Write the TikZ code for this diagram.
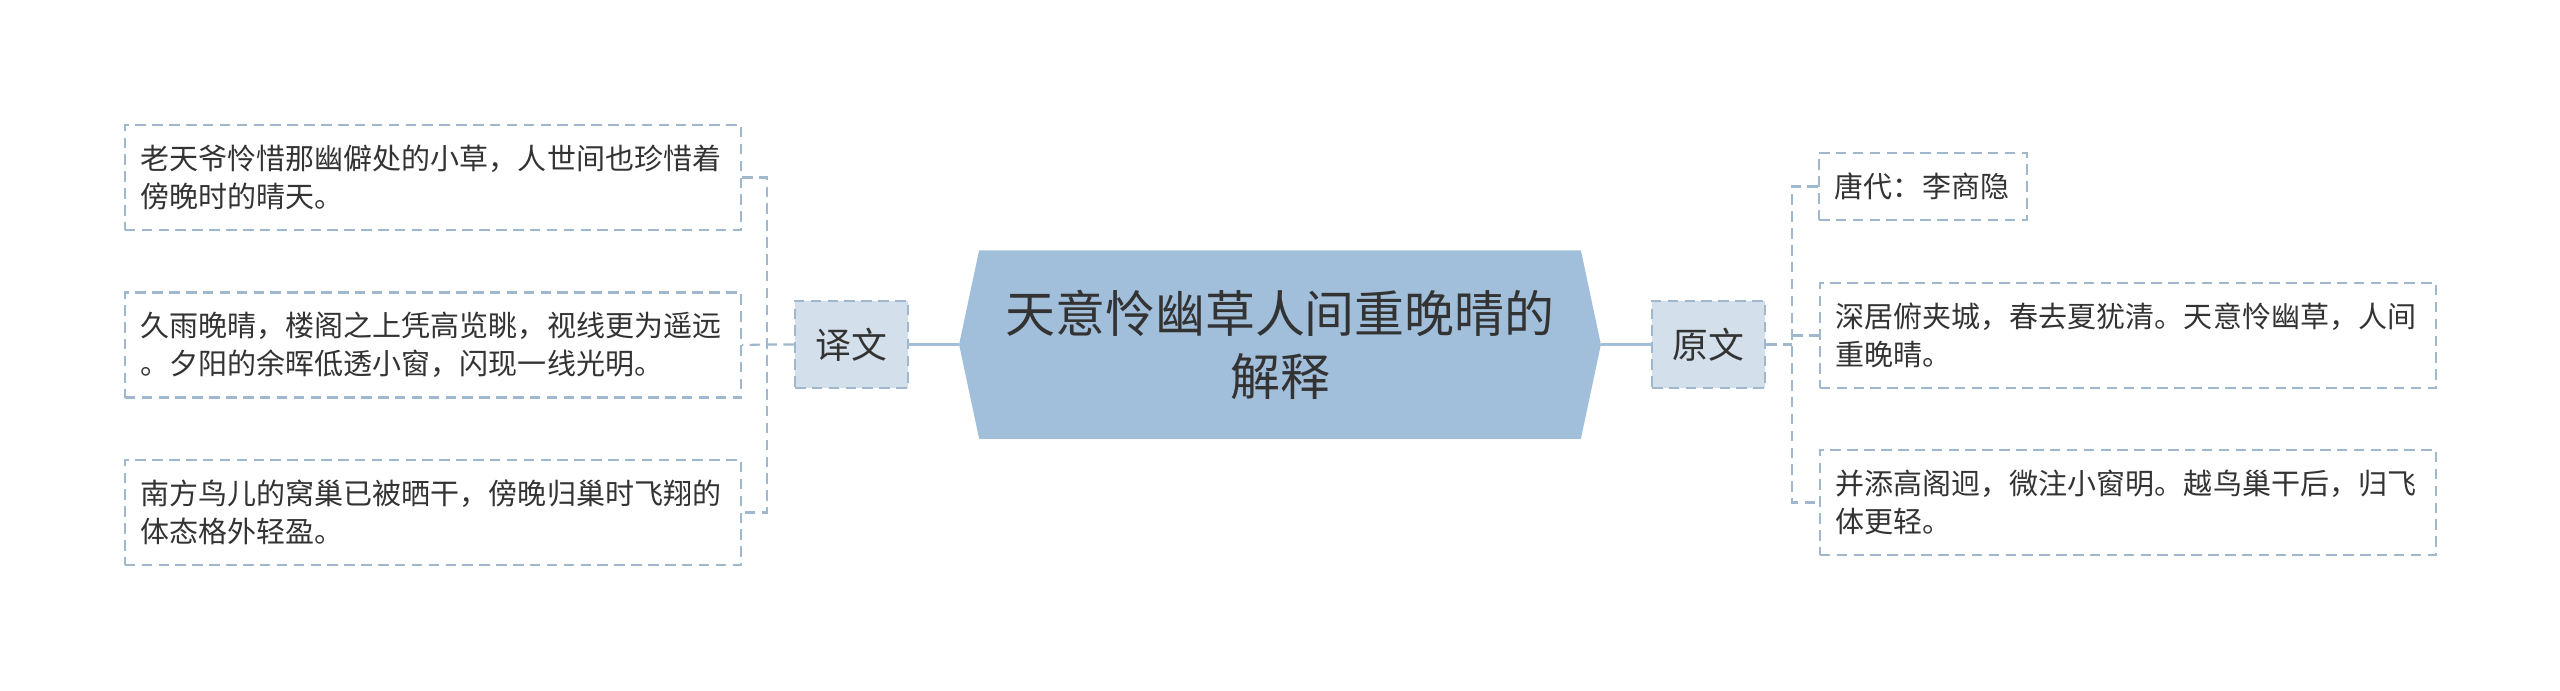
\documentclass[tikz,border=0pt]{standalone}
\usepackage{fontspec}
\setmainfont{Noto Sans CJK SC}
\usetikzlibrary{calc,backgrounds}
\definecolor{titleblue}{HTML}{A1BEDA}
\definecolor{branchfill}{HTML}{D3DFEA}
\definecolor{dashblue}{HTML}{A0B8CE}
\definecolor{inkgray}{HTML}{333333}
\tikzset{
  titlebox/.style={minimum width=6.4cm,minimum height=1.87cm,align=center,text=inkgray,font=\fontsize{14.2pt}{17.9pt}\selectfont},
  branch/.style={draw=dashblue,line width=0.6pt,dash pattern=on 3pt off 1.8pt,fill=branchfill,text=inkgray,font=\fontsize{10.2pt}{12pt}\selectfont,minimum width=1.13cm,minimum height=0.87cm,inner sep=0pt},
  leaf/.style={draw=dashblue,line width=0.6pt,dash pattern=on 3pt off 1.8pt,fill=white,text=inkgray,font=\fontsize{8.25pt}{10.8pt}\selectfont,align=left,text width=5.84cm,inner xsep=0.16cm,inner ysep=0pt,minimum height=1.05cm},
  link/.style={dashblue,line width=0.6pt,dash pattern=on 3pt off 1.8pt},
  trunk/.style={titleblue,line width=1.1pt}
}
\begin{document}
\begin{tikzpicture}[x=0.01cm,y=-0.01cm]
\useasboundingbox (0,0) rectangle (2560,690);

% Title
\node[titlebox] (title) at (1280,344.5) {天意怜幽草人间重晚晴的\\解释};
\begin{scope}[on background layer]
\fill[titleblue] (title.west) -- ($(title.north west)+(20,0)$) -- ($(title.north east)+(-20,0)$) -- (title.east) -- ($(title.south east)+(-20,0)$) -- ($(title.south west)+(20,0)$) -- cycle;
\end{scope}

% Branches
\node[branch] (yiwen) at (851.5,344.5) {译文};
\node[branch] (yuanwen) at (1708.5,344.5) {原文};

% Left leaves
\node[leaf] (l1) at (433,177.5) {老天爷怜惜那幽僻处的小草，人世间也珍惜着\\傍晚时的晴天。};
\node[leaf] (l2) at (433,345) {久雨晚晴，楼阁之上凭高览眺，视线更为遥远\\。夕阳的余晖低透小窗，闪现一线光明。};
\node[leaf] (l3) at (433,512.5) {南方鸟儿的窝巢已被晒干，傍晚归巢时飞翔的\\体态格外轻盈。};

% Right leaves
\node[leaf,text width=1.76cm,minimum height=0.67cm] (r1) at (1923,186.5) {唐代：李商隐};
\node[leaf] (r2) at (2128,335.5) {深居俯夹城，春去夏犹清。天意怜幽草，人间\\重晚晴。};
\node[leaf] (r3) at (2128,502.5) {并添高阁迥，微注小窗明。越鸟巢干后，归飞\\体更轻。};

% Connectors
\coordinate (ljoin) at (767,344.5);
\coordinate (rjoin) at (1792,344.5);
\draw[trunk] (title.west) -- (yiwen.east);
\draw[trunk] (title.east) -- (yuanwen.west);
\draw[link] (yiwen.west) -- (ljoin) -- (l2.east);
\draw[link] (l1.east) -- (ljoin |- l1.east) -- (ljoin |- l3.east) -- (l3.east);
\draw[link] (yuanwen.east) -- (rjoin);
\draw[link] (r1.west) -- (rjoin |- r1.west) -- (rjoin |- r3.west) -- (r3.west);
\draw[link] (rjoin |- r2.west) -- (r2.west);
\end{tikzpicture}
\end{document}
